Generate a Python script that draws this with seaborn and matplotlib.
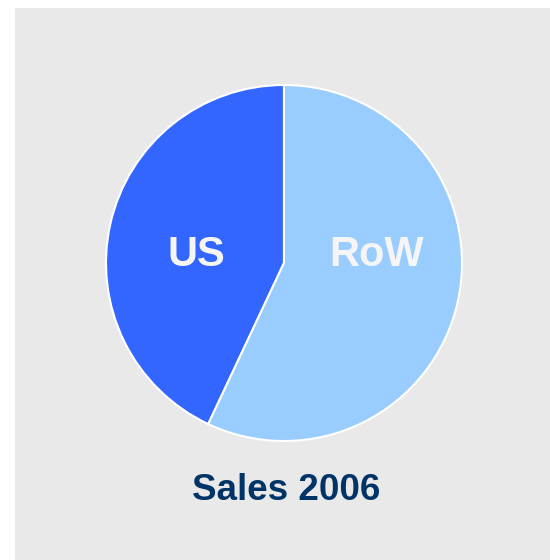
import matplotlib
matplotlib.use("Agg")
import matplotlib.pyplot as plt
import seaborn as sns
from matplotlib.patches import Rectangle

categories = ["US", "RoW"]
values = [43, 57]
colors = ["#3366FF", "#99CCFF"]
title = "Sales 2006"

sns.set_theme(style="white")
plt.rcParams['font.family'] = ['Liberation Sans', 'DejaVu Sans']

W, H = 550, 560
fig = plt.figure(figsize=(W / 100, H / 100), dpi=100)
fig.patch.set_facecolor("white")
fig.add_artist(Rectangle((15 / W, 0), 1 - 15 / W, 1 - 8 / H, transform=fig.transFigure,
                         facecolor="#E9E9E9", edgecolor="none", zorder=0))

cx, cy, r = 284, 263, 178
ax = fig.add_axes([(cx - r) / W, 1 - (cy + r) / H, 2 * r / W, 2 * r / H])
ax.set_facecolor("none")
palette = sns.color_palette(colors)
ax.pie(values, colors=palette, startangle=90, counterclock=True,
       wedgeprops=dict(edgecolor="white", linewidth=1.5), radius=1)
ax.set_xlim(-1, 1)
ax.set_ylim(-1, 1)
ax.set_aspect("equal")
ax.axis("off")

label_pos = [(-0.494, 0.045), (0.522, 0.045)]
for lab, (x, y) in zip(categories, label_pos):
    ax.text(x, y, lab, ha="center", va="center", fontsize=30, fontweight="bold",
            color="#F5F5F5")

fig.text(286.5 / W, 1 - 491 / H, title, ha="center", va="center", fontsize=26.5,
         fontweight="bold", color="#003366")

fig.savefig("out.png", dpi=100)
